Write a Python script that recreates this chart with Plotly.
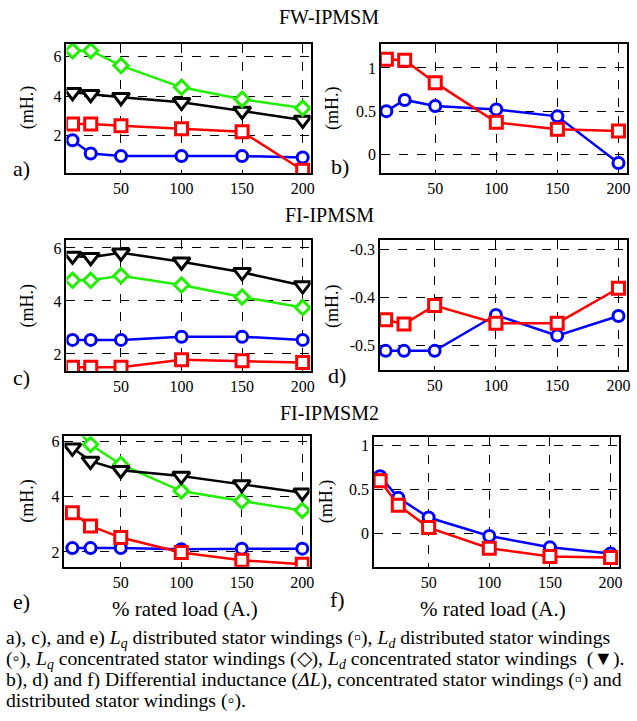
import plotly.graph_objects as go

W, H = 637, 721

load_pct = [10, 25, 50, 100, 150, 200]

# a) FW-IPMSM
a_lq_dist = [2.6, 2.6, 2.5, 2.35, 2.2, 0.25]
a_ld_dist = [1.77, 1.1, 0.97, 0.97, 0.97, 0.9]
a_lq_conc = [6.3, 6.3, 5.55, 4.45, 3.85, 3.4]
a_ld_conc = [4.2, 4.1, 3.95, 3.7, 3.25, 2.8]
# b) FW-IPMSM differential inductance
b_dl_conc = [1.10, 1.09, 0.83, 0.37, 0.29, 0.27]
b_dl_dist = [0.50, 0.63, 0.56, 0.52, 0.44, -0.10]
# c) FI-IPMSM
c_lq_dist = [1.5, 1.5, 1.5, 1.78, 1.74, 1.68]
c_ld_dist = [2.53, 2.53, 2.53, 2.65, 2.65, 2.53]
c_lq_conc = [4.78, 4.78, 4.95, 4.6, 4.15, 3.75]
c_ld_conc = [5.7, 5.65, 5.82, 5.48, 5.08, 4.58]
# d) FI-IPMSM differential inductance
d_dl_conc = [-0.447, -0.456, -0.417, -0.454, -0.454, -0.381]
d_dl_dist = [-0.512, -0.512, -0.512, -0.437, -0.48, -0.439]
# e) FI-IPMSM2
e_lq_dist = [3.42, 2.94, 2.52, 1.98, 1.7, 1.56]
e_ld_dist = [2.14, 2.14, 2.14, 2.1, 2.12, 2.12]
e_lq_conc = [6.6, 5.88, 5.16, 4.2, 3.84, 3.5]
e_ld_conc = [5.76, 5.28, 4.95, 4.74, 4.44, 4.14]
# f) FI-IPMSM2 differential inductance
f_dl_conc = [0.6, 0.32, 0.065, -0.17, -0.265, -0.275]
f_dl_dist = [0.65, 0.405, 0.18, -0.03, -0.16, -0.23]

x_ticks = [50, 100, 150, 200]
y_ticks = {
    "a": [2, 4, 6], "b": [0, 0.5, 1], "c": [2, 4, 6],
    "d": [-0.5, -0.4, -0.3], "e": [2, 4, 6], "f": [0, 0.5, 1],
}
y_ranges = {
    "a": [0.1, 6.65], "b": [-0.22, 1.28], "c": [1.34, 6.3],
    "d": [-0.553, -0.28], "e": [1.47, 6.18], "f": [-0.38, 1.095],
}
x_ranges = {
    "a": [5, 206.5], "b": [5.6, 207], "c": [5, 206.5],
    "d": [5.4, 207], "e": [3.5, 206], "f": [5, 207],
}
# panel boxes in pixels: left, right, top, bottom
boxes = {
    "a": (67, 313, 41, 171), "b": (384, 632, 41, 171),
    "c": (67, 313, 238, 370), "d": (383, 632, 238, 369),
    "e": (65, 312, 435, 566), "f": (377, 624, 436, 566),
}

RED, BLUE, GREEN, BLACK = "#ff0000", "#0000ff", "#22ee00", "#000000"
FONT = "Liberation Serif, Times New Roman, serif"

def px(x):
    return x / W

def py(y):
    return 1 - y / H

fig = go.Figure()

styles = {
    "lq_dist": (RED, "square", 12),
    "ld_dist": (BLUE, "circle", 11),
    "lq_conc": (GREEN, "diamond", 11),
    "ld_conc": (BLACK, "triangle-down", 15),
}

panel_series = {
    "a": [("ld_conc", a_ld_conc), ("lq_conc", a_lq_conc), ("ld_dist", a_ld_dist), ("lq_dist", a_lq_dist)],
    "b": [("ld_dist", b_dl_dist), ("lq_dist", b_dl_conc)],
    "c": [("ld_conc", c_ld_conc), ("lq_conc", c_lq_conc), ("ld_dist", c_ld_dist), ("lq_dist", c_lq_dist)],
    "d": [("ld_dist", d_dl_dist), ("lq_dist", d_dl_conc)],
    "e": [("ld_dist", e_ld_dist), ("lq_dist", e_lq_dist), ("lq_conc", e_lq_conc), ("ld_conc", e_ld_conc)],
    "f": [("ld_dist", f_dl_dist), ("lq_dist", f_dl_conc)],
}

for i, key in enumerate(["a", "b", "c", "d", "e", "f"]):
    n = i + 1
    xa = "x" if n == 1 else f"x{n}"
    ya = "y" if n == 1 else f"y{n}"
    for skey, vals in panel_series[key]:
        color, sym, size = styles[skey]
        fig.add_trace(go.Scatter(
            x=load_pct, y=vals, xaxis=xa, yaxis=ya, mode="lines+markers",
            line=dict(color=color, width=2.5),
            marker=dict(symbol=sym, size=size, color="white",
                        line=dict(color=color, width=3)),
            showlegend=False, cliponaxis=True, hoverinfo="skip",
        ))
    l, r, t, b = boxes[key]
    axis_common = dict(
        showline=True, mirror=True, linecolor="black", linewidth=1.5,
        showgrid=True, gridcolor="black", gridwidth=1.1, griddash="dash",
        zeroline=False, ticks="", tickfont=dict(family=FONT, size=16, color="black"),
    )
    fig.layout[f"xaxis{'' if n == 1 else n}"] = dict(
        domain=[px(l), px(r)], anchor=ya, range=x_ranges[key],
        tickvals=x_ticks, ticktext=[str(v) for v in x_ticks], **axis_common,
    )
    fig.layout[f"yaxis{'' if n == 1 else n}"] = dict(
        domain=[py(b), py(t)], anchor=xa, range=y_ranges[key],
        tickvals=y_ticks[key], ticktext=[f"{v:g}" for v in y_ticks[key]], **axis_common,
    )

annotations = []

def ann(text, x, y, size, **kw):
    d = dict(text=text, x=px(x), y=py(y), xref="paper", yref="paper",
             xanchor="center", yanchor="middle", showarrow=False,
             font=dict(family=FONT, size=size, color="black"))
    d.update(kw)
    annotations.append(d)

# section titles
for text, y in [("FW-IPMSM", 14), ("FI-IPMSM", 213), ("FI-IPMSM2", 412)]:
    ann(text, 332, y, 20)
# y labels
for x, y in [(28, 105), (335, 105), (28, 304), (335, 304), (28, 500), (330, 500)]:
    ann("(mH.)", x, y, 18, textangle=-90)
# panel letters
for text, x, y in [("a)", 22, 166), ("b)", 343, 164), ("c)", 22, 376),
                   ("d)", 340, 374), ("e)", 22, 601), ("f)", 340, 599)]:
    ann(text, x, y, 22)
# x axis titles
for x in [186, 497]:
    ann("% rated load (A.)", x, 609, 21)
# caption
caption = [
    "a), c), and e) <i>L<sub>q</sub></i> distributed stator windings (\u25ab), <i>L<sub>d</sub></i> distributed stator windings",
    "(\u25e6), <i>L<sub>q</sub></i> concentrated stator windings (\u25c7), <i>L<sub>d</sub></i> concentrated stator windings  (\u25bc).",
    "b), d) and f) Differential inductance (<i>\u0394L</i>), concentrated stator windings (\u25ab) and",
    "distributed stator windings (\u25e6).",
]
for line, y in zip(caption, [638, 659, 679, 700]):
    ann(line, 4, y, 19.7, xanchor="left")

fig.update_layout(
    width=W, height=H, margin=dict(l=0, r=0, t=0, b=0),
    paper_bgcolor="white", plot_bgcolor="white",
    annotations=annotations, hovermode=False,
)

fig.write_html("out.html", config={"displayModeBar": False},
               post_script="document.body.style.margin='0px';")
